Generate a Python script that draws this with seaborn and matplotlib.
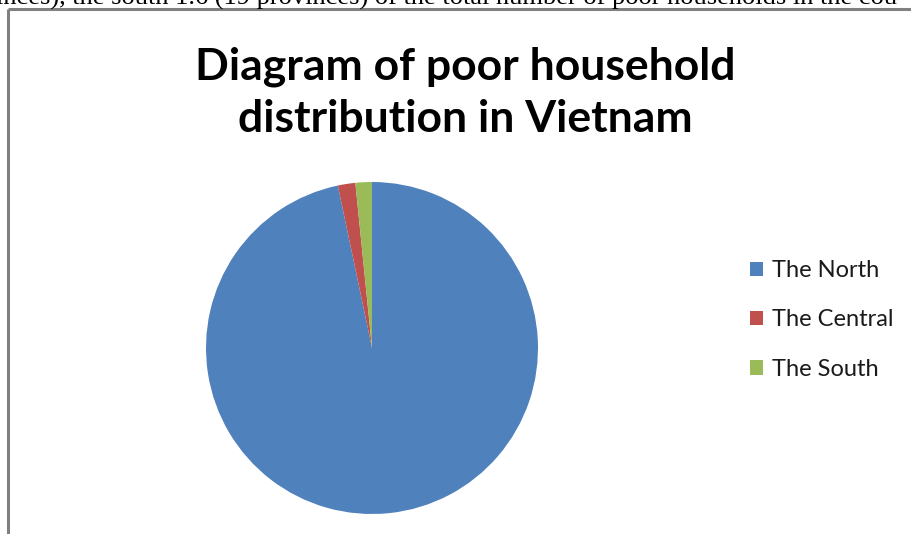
import matplotlib
matplotlib.use("Agg")
import matplotlib.pyplot as plt
import seaborn as sns
from matplotlib.lines import Line2D
from matplotlib.patches import Patch

# data
regions = ["The North", "The Central", "The South"]
shares = [96.7, 1.7, 1.6]
colors = ["#4F81BD", "#C0504D", "#9BBB59"]
title = "Diagram of poor household\ndistribution in Vietnam"
doc_text = "inces), the south 1.6 (19 provinces) of the total number of poor households in the cou"

sns.set_theme(style="white")
plt.rcParams["font.family"] = ["Lato", "DejaVu Sans"]

W, H = 911, 534
fig = plt.figure(figsize=(W / 100, H / 100), dpi=100)

# cropped document text above the chart frame
fig.text(-4 / W, 1 - 5 / H, doc_text, family="Liberation Serif", fontsize=19,
         ha="left", va="baseline", color="black")

# chart frame (left and top border)
fig.add_artist(Line2D([8 / W, 8 / W], [0, 1 - 9 / H], color="#808080", lw=2.2,
                      transform=fig.transFigure, solid_capstyle="butt"))
fig.add_artist(Line2D([8 / W, 1], [1 - 9 / H, 1 - 9 / H], color="#808080", lw=2.2,
                      transform=fig.transFigure, solid_capstyle="butt"))

# pie
cx, cy, r = 372, 348, 166
ax = fig.add_axes([(cx - r) / W, (H - cy - r) / H, 2 * r / W, 2 * r / H])
pal = sns.color_palette(colors)
ax.pie(shares, colors=pal, startangle=90, counterclock=False,
       wedgeprops=dict(linewidth=0))
ax.set_xlim(-1, 1)
ax.set_ylim(-1, 1)
ax.set_aspect("equal")
ax.axis("off")

fig.text(465 / W, 1 - 93 / H, title, ha="center", va="center", fontsize=32,
         fontweight="bold", color="black", linespacing=1.35)

handles = [Patch(facecolor=c, edgecolor="none") for c in pal]
fig.legend(handles, regions, loc="center left", bbox_to_anchor=(729 / W, 1 - 320 / H),
           frameon=False, fontsize=17, handlelength=0.55, handleheight=0.55,
           handletextpad=0.35, labelspacing=1.2, labelcolor="#1a1a1a")

fig.savefig("out.png", dpi=100)
